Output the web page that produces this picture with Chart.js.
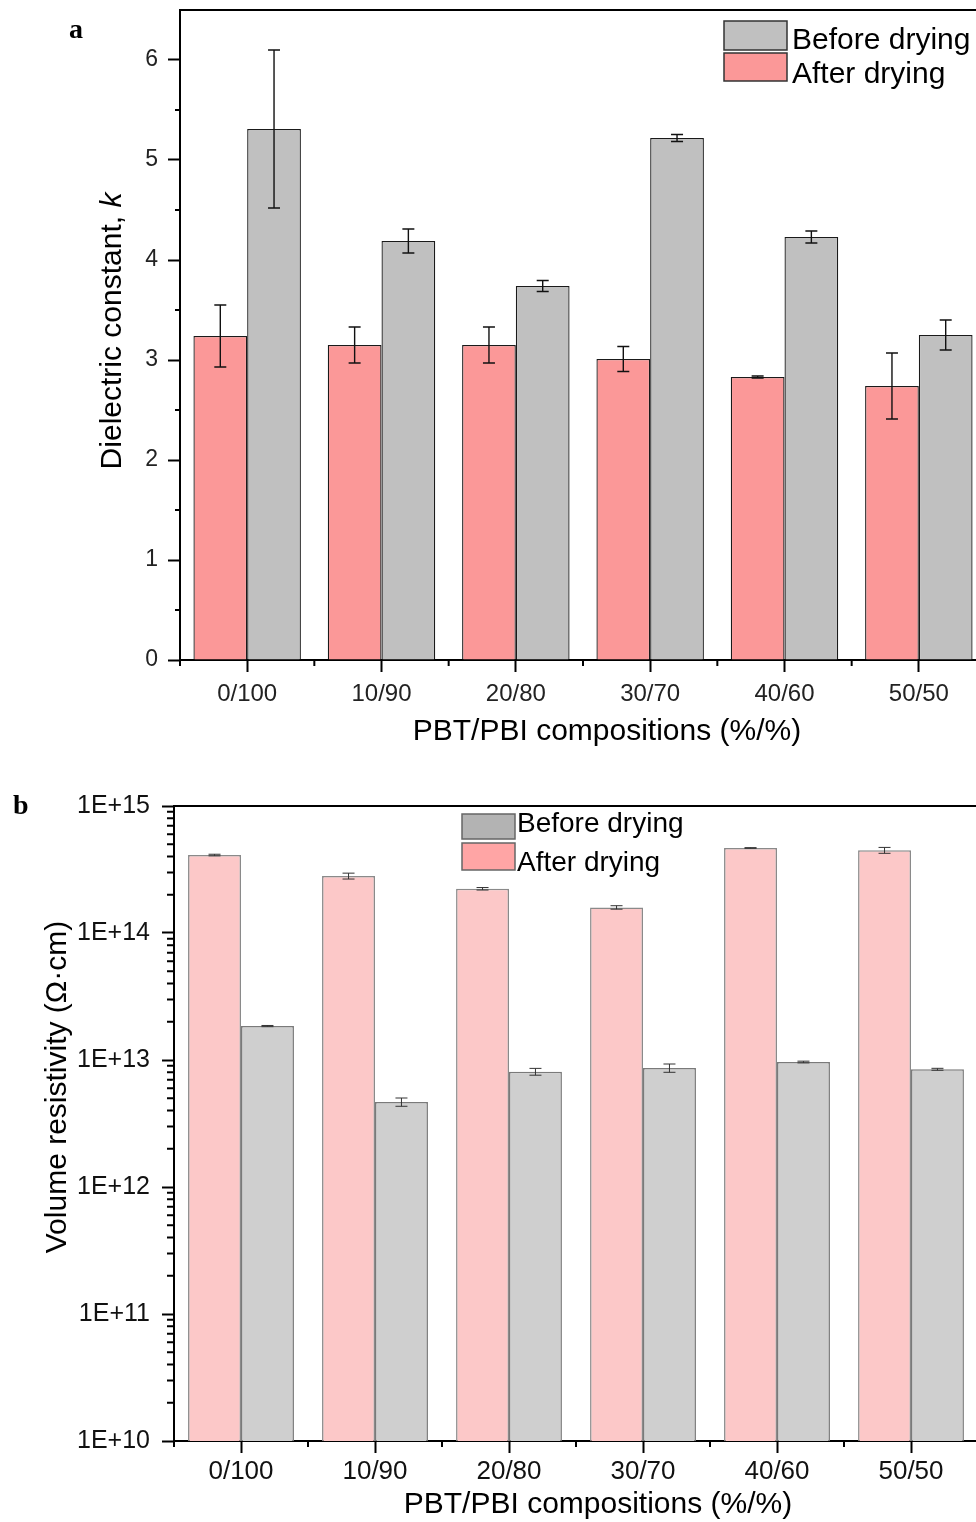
<!DOCTYPE html>
<html>
<head>
<meta charset="utf-8">
<script src="https://cdn.jsdelivr.net/npm/chart.js@4.4.0/dist/chart.umd.min.js"></script>
<style>
  html, body { margin: 0; padding: 0; background: #fff; overflow: hidden; }
  body { width: 976px; height: 1522px; position: relative; }
  canvas { position: absolute; left: 0; }
</style>
</head>
<body>
<canvas id="chartA" width="1000" height="760" style="top:0px"></canvas>
<canvas id="chartB" width="1000" height="752" style="top:770px"></canvas>
<script>
// categories (same for both panels)
var compositions = ['0/100', '10/90', '20/80', '30/70', '40/60', '50/50'];

// panel a - dielectric constant k
var kAfter = [3.24, 3.15, 3.15, 3.01, 2.83, 2.74];
var kAfterErr = [0.31, 0.18, 0.18, 0.125, 0.01, 0.33];
var kBefore = [5.31, 4.19, 3.74, 5.22, 4.23, 3.25];
var kBeforeErr = [0.79, 0.12, 0.055, 0.035, 0.06, 0.15];

// panel b - volume resistivity (ohm.cm)
var rhoAfter = [4.11e14, 2.81e14, 2.23e14, 1.59e14, 4.67e14, 4.48e14];
var rhoAfterErr = [0.06e14, 0.15e14, 0.05e14, 0.05e14, 0.03e14, 0.24e14];
var rhoBefore = [1.85e13, 4.67e12, 8.09e12, 8.65e12, 9.64e12, 8.45e12];
var rhoBeforeErr = [0.02e13, 0.35e12, 0.5e12, 0.65e12, 0.15e12, 0.15e12];

var logDecades = [1e10, 1e11, 1e12, 1e13, 1e14, 1e15];

var FONT = "'Liberation Sans', Arial, sans-serif";

// error bars, drawn on top of the bars
var errorBars = {
    id: 'errorBars',
    afterDatasetsDraw: function (chart, args, opts) {
        var ctx = chart.ctx;
        var yScale = chart.scales.y;
        ctx.save();
        ctx.strokeStyle = opts.color;
        ctx.lineWidth = opts.width;
        chart.data.datasets.forEach(function (ds, i) {
            var meta = chart.getDatasetMeta(i);
            meta.data.forEach(function (bar, j) {
                var v = ds.data[j], e = ds.errors[j];
                var yt = yScale.getPixelForValue(v + e);
                var yb = yScale.getPixelForValue(v - e);
                ctx.beginPath();
                ctx.moveTo(bar.x, yt); ctx.lineTo(bar.x, yb);
                ctx.moveTo(bar.x - opts.cap, yt); ctx.lineTo(bar.x + opts.cap, yt);
                ctx.moveTo(bar.x - opts.cap, yb); ctx.lineTo(bar.x + opts.cap, yb);
                ctx.stroke();
            });
        });
        ctx.restore();
    }
};

// minor ticks + frame (top/right lines)
var minorTicks = {
    id: 'minorTicks',
    afterDraw: function (chart, args, opts) {
        var ctx = chart.ctx, area = chart.chartArea;
        var xs = chart.scales.x, ys = chart.scales.y;
        ctx.save();
        ctx.strokeStyle = '#000';
        ctx.lineWidth = 2;
        // frame
        ctx.beginPath();
        ctx.moveTo(area.left, area.top); ctx.lineTo(area.right, area.top); ctx.lineTo(area.right, area.bottom);
        ctx.stroke();
        // x minor ticks at category boundaries
        var half = (xs.getPixelForValue(1) - xs.getPixelForValue(0)) / 2;
        ctx.beginPath();
        for (var i = 0; i <= compositions.length; i++) {
            var px = xs.getPixelForValue(i) - half;
            ctx.moveTo(px, area.bottom); ctx.lineTo(px, area.bottom + opts.xLen);
        }
        // y minor ticks
        opts.yValues.forEach(function (v) {
            var py = ys.getPixelForValue(v);
            ctx.moveTo(area.left - opts.yLen, py); ctx.lineTo(area.left, py);
        });
        ctx.stroke();
        ctx.restore();
    }
};

// axis titles, panel letter and legend
var decor = {
    id: 'decor',
    afterDraw: function (chart, args, opts) {
        var ctx = chart.ctx;
        ctx.save();
        ctx.fillStyle = '#000';
        // panel letter
        ctx.font = 'bold 28px "Liberation Serif", "Times New Roman", serif';
        ctx.textAlign = 'left'; ctx.textBaseline = 'alphabetic';
        ctx.fillText(opts.letter.text, opts.letter.x, opts.letter.y);
        // x title
        ctx.font = '30px ' + FONT;
        ctx.textAlign = 'center'; ctx.textBaseline = 'middle';
        ctx.fillText(opts.xTitle.text, opts.xTitle.x, opts.xTitle.y);
        // y title (rotated, may have italic parts)
        ctx.translate(opts.yTitle.x, opts.yTitle.y);
        ctx.rotate(-Math.PI / 2);
        var total = 0;
        opts.yTitle.parts.forEach(function (p) {
            ctx.font = (p.italic ? 'italic ' : '') + '30px ' + FONT;
            total += ctx.measureText(p.text).width;
        });
        var cx = -total / 2;
        ctx.textAlign = 'left';
        opts.yTitle.parts.forEach(function (p) {
            ctx.font = (p.italic ? 'italic ' : '') + '30px ' + FONT;
            ctx.fillText(p.text, cx, 0);
            cx += ctx.measureText(p.text).width;
        });
        ctx.setTransform(1, 0, 0, 1, 0, 0);
        // legend
        var lg = opts.legend;
        ctx.font = lg.fontSize + 'px ' + FONT;
        ctx.textAlign = 'left'; ctx.textBaseline = 'alphabetic';
        lg.items.forEach(function (it) {
            var ds = chart.data.datasets[it.ds];
            ctx.fillStyle = ds.legendColor || ds.backgroundColor;
            ctx.fillRect(it.box[0], it.box[1], it.box[2], it.box[3]);
            ctx.strokeStyle = lg.border;
            ctx.lineWidth = 1.5;
            ctx.strokeRect(it.box[0], it.box[1], it.box[2], it.box[3]);
            ctx.fillStyle = '#000';
            ctx.fillText(ds.label, lg.textX, it.baseline);
        });
        ctx.restore();
    }
};

// ---------- panel a ----------
var halfSteps = [0.5, 1.5, 2.5, 3.5, 4.5, 5.5];

new Chart(document.getElementById('chartA'), {
    type: 'bar',
    data: {
        labels: compositions,
        datasets: [
            { label: 'After drying', data: kAfter, errors: kAfterErr, backgroundColor: '#FB9898', borderColor: '#1a1a1a', borderWidth: 1.3 },
            { label: 'Before drying', data: kBefore, errors: kBeforeErr, backgroundColor: '#C0C0C0', borderColor: '#1a1a1a', borderWidth: 1.3 }
        ]
    },
    options: {
        responsive: false,
        animation: false,
        devicePixelRatio: 1,
        layout: { padding: { top: 10, right: 14, left: 0, bottom: 0 } },
        datasets: { bar: { categoryPercentage: 0.8, barPercentage: 1.0 } },
        plugins: {
            legend: { display: false },
            tooltip: { enabled: false },
            errorBars: { color: '#111', width: 1.4, cap: 6 },
            minorTicks: { xLen: 6, yLen: 5, yValues: halfSteps },
            decor: {
                letter: { text: 'a', x: 69, y: 38 },
                xTitle: { text: 'PBT/PBI compositions (%/%)', x: 607, y: 732 },
                yTitle: { x: 113, y: 331, parts: [{ text: 'Dielectric constant, ' }, { text: 'k', italic: true }] },
                legend: {
                    fontSize: 30, textX: 792, border: '#333',
                    items: [
                        { ds: 1, box: [724, 21, 63, 29], baseline: 49 },
                        { ds: 0, box: [724, 53, 63, 28], baseline: 83 }
                    ]
                }
            }
        },
        scales: {
            x: {
                grid: { offset: false, drawOnChartArea: false, tickLength: 12, tickWidth: 2, tickColor: '#000' },
                border: { color: '#000', width: 2 },
                ticks: { font: { family: FONT, size: 24 }, color: '#222', padding: 8, maxRotation: 0 },
                afterFit: function (s) { s.height = 100; s.paddingLeft = 0; s.paddingRight = 0; }
            },
            y: {
                min: 0, max: 6.5,
                ticks: { stepSize: 1, font: { family: FONT, size: 23 }, color: '#222', padding: 10 },
                afterBuildTicks: function (s) { s.ticks = s.ticks.filter(function (t) { return Number.isInteger(t.value); }); },
                grid: { drawOnChartArea: false, tickLength: 12, tickWidth: 2, tickColor: '#000' },
                border: { color: '#000', width: 2 },
                afterFit: function (s) { s.width = 180; s.paddingTop = 0; s.paddingBottom = 0; }
            }
        }
    },
    plugins: [errorBars, minorTicks, decor]
});

// ---------- panel b ----------
var logMinor = [];
logDecades.slice(0, -1).forEach(function (d) {
    for (var m = 2; m <= 9; m++) logMinor.push(m * d);
});

new Chart(document.getElementById('chartB'), {
    type: 'bar',
    data: {
        labels: compositions,
        datasets: [
            { label: 'After drying', data: rhoAfter, errors: rhoAfterErr, backgroundColor: '#FCC8C8', legendColor: '#FFA5A5', borderColor: '#8a8a8a', borderWidth: 1.5 },
            { label: 'Before drying', data: rhoBefore, errors: rhoBeforeErr, backgroundColor: '#CFCFCF', legendColor: '#B3B3B3', borderColor: '#7a7a7a', borderWidth: 1.5 }
        ]
    },
    options: {
        responsive: false,
        animation: false,
        devicePixelRatio: 1,
        layout: { padding: { top: 36, right: 22, left: 0, bottom: 0 } },
        datasets: { bar: { categoryPercentage: 0.79, barPercentage: 1.0 } },
        plugins: {
            legend: { display: false },
            tooltip: { enabled: false },
            errorBars: { color: '#333', width: 1, cap: 6 },
            minorTicks: { xLen: 6, yLen: 7, yValues: logMinor },
            decor: {
                letter: { text: 'b', x: 13, y: 44 },
                xTitle: { text: 'PBT/PBI compositions (%/%)', x: 598, y: 735 },
                yTitle: { x: 58, y: 317, parts: [{ text: 'Volume resistivity (Ω·cm)' }] },
                legend: {
                    fontSize: 28, textX: 517, border: '#666',
                    items: [
                        { ds: 1, box: [462, 44, 53, 25], baseline: 62 },
                        { ds: 0, box: [462, 73, 53, 27], baseline: 101 }
                    ]
                }
            }
        },
        scales: {
            x: {
                grid: { offset: false, drawOnChartArea: false, tickLength: 12, tickWidth: 2, tickColor: '#000' },
                border: { color: '#000', width: 2 },
                ticks: { font: { family: FONT, size: 26 }, color: '#111', padding: 3, maxRotation: 0 },
                afterFit: function (s) { s.height = 81; s.paddingLeft = 0; s.paddingRight = 0; }
            },
            y: {
                type: 'logarithmic',
                min: 1e10, max: 1e15,
                afterBuildTicks: function (s) { s.ticks = logDecades.map(function (v) { return { value: v }; }); },
                ticks: {
                    font: { family: FONT, size: 25 }, color: '#111', padding: 12,
                    callback: function (v) { return '1E+' + Math.round(Math.log10(v)); }
                },
                grid: { drawOnChartArea: false, tickLength: 12, tickWidth: 2, tickColor: '#000' },
                border: { color: '#000', width: 2 },
                afterFit: function (s) { s.width = 174; s.paddingTop = 0; s.paddingBottom = 0; }
            }
        }
    },
    plugins: [errorBars, minorTicks, decor]
});
</script>
</body>
</html>
